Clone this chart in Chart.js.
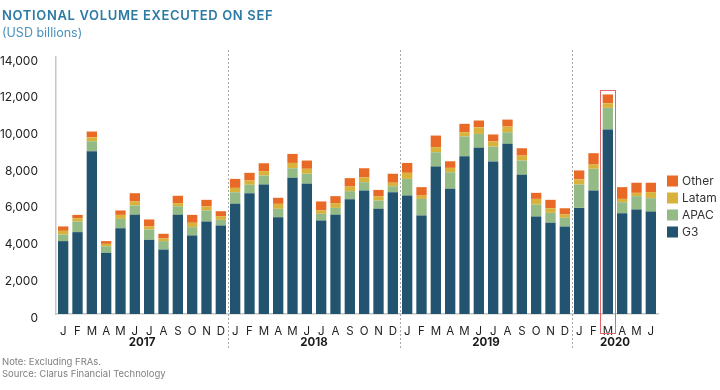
<!DOCTYPE html>
<html>
<head>
<meta charset="utf-8">
<script src="https://cdn.jsdelivr.net/npm/chart.js@4.4.0/dist/chart.umd.min.js"></script>
<style>
  body { margin: 0; background: #fff; font-family: Inter, sans-serif; }
  #wrap { position: relative; width: 720px; height: 390px; }
  #c { position: absolute; left: 0; top: 0; }
  .t { position: absolute; left: 2px; white-space: nowrap; }
</style>
</head>
<body>
<div id="wrap">
  <canvas id="c" width="720" height="390"></canvas>
  <div class="t" style="top:7px;font-size:13px;font-weight:600;color:#2d7aa5;letter-spacing:0.65px">NOTIONAL VOLUME EXECUTED ON SEF</div>
  <div class="t" style="top:25px;font-size:12.5px;color:#4a91bd">(USD billions)</div>
  <div class="t" style="top:356px;font-size:9.5px;color:#808080">Note: Excluding FRAs.</div>
  <div class="t" style="top:368px;font-size:9.5px;color:#808080">Source: Clarus Financial Technology</div>
</div>
<script>
// Monthly SEF notional, Jan 2017 - Jun 2020 (USD billions)
const months = [
  'J','F','M','A','M','J','J','A','S','O','N','D',
  'J','F','M','A','M','J','J','A','S','O','N','D',
  'J','F','M','A','M','J','J','A','S','O','N','D',
  'J','F','M','A','M','J'
];
const years = ['2017', '2018', '2019', '2020'];

const g3 = [
  3970, 4460, 8870, 3330, 4670, 5400, 4040, 3510, 5400, 4280, 5040, 4820,
  6000, 6580, 7050, 5270, 7420, 7090, 5090, 5400, 6250, 6730, 5730, 6630,
  6450, 5360, 8030, 6820, 8600, 9050, 8310, 9270, 7580, 5310, 4970, 4770,
  5780, 6730, 10050, 5490, 5690, 5580
];
const apac = [
  360, 580, 540, 360, 510, 510, 560, 460, 470, 450, 600, 310,
  630, 460, 490, 460, 520, 550, 370, 380, 440, 450, 450, 330,
  910, 910, 780, 900, 1070, 760, 810, 630, 780, 650, 540, 470,
  1270, 1180, 1180, 600, 730, 730
];
const latam = [
  200, 180, 220, 130, 220, 220, 170, 140, 170, 240, 220, 200,
  240, 230, 240, 270, 290, 270, 180, 260, 250, 270, 240, 190,
  330, 180, 280, 240, 230, 360, 280, 310, 270, 310, 250, 180,
  280, 230, 250, 180, 180, 330
];
const other = [
  240, 180, 310, 150, 240, 450, 380, 260, 400, 430, 360, 270,
  490, 420, 430, 330, 490, 450, 490, 380, 460, 490, 340, 490,
  540, 460, 630, 360, 460, 370, 380, 380, 400, 330, 460, 340,
  490, 620, 480, 640, 550, 510
];

const highlightIndex = 38; // March 2020

const extras = {
  id: 'extras',
  afterDatasetsDraw(chart) {
    const { ctx, scales: { x, y } } = chart;
    ctx.save();

    // dotted year separators
    ctx.strokeStyle = '#a9a9a9';
    ctx.lineWidth = 1;
    ctx.setLineDash([2, 2]);
    for (let i = 12; i < months.length; i += 12) {
      const px = Math.round((x.getPixelForValue(i - 1) + x.getPixelForValue(i)) / 2) + 0.5;
      ctx.beginPath();
      ctx.moveTo(px, 50);
      ctx.lineTo(px, 350);
      ctx.stroke();
    }
    ctx.setLineDash([]);

    // year labels centred under each group of months
    ctx.fillStyle = '#1a1a1a';
    ctx.font = 'bold 11.5px Inter';
    ctx.textAlign = 'center';
    ctx.textBaseline = 'middle';
    years.forEach((yr, k) => {
      const first = k * 12;
      const last = Math.min(first + 11, months.length - 1);
      const cx = (x.getPixelForValue(first) + x.getPixelForValue(last)) / 2;
      ctx.fillText(yr, cx, 343);
    });

    // red box round March 2020
    const total = g3[highlightIndex] + apac[highlightIndex] + latam[highlightIndex] + other[highlightIndex];
    const bx = x.getPixelForValue(highlightIndex);
    const top = Math.round(y.getPixelForValue(total)) - 4;
    ctx.strokeStyle = '#e2676a';
    ctx.lineWidth = 1;
    ctx.strokeRect(Math.round(bx - 7.5) + 0.5, top + 0.5, 15, 333 - top);

    // legend on the right, top item = last dataset
    const ds = chart.data.datasets.slice().reverse();
    ctx.font = '12px Inter';
    ctx.textAlign = 'left';
    ds.forEach((d, i) => {
      const cy = 181 + i * 17;
      ctx.fillStyle = d.backgroundColor;
      ctx.fillRect(667, cy - 5.5, 11, 11);
      ctx.fillStyle = '#333';
      ctx.fillText(d.label, 682, cy + 0.5);
    });

    ctx.restore();
  }
};

new Chart(document.getElementById('c'), {
  type: 'bar',
  data: {
    labels: months,
    datasets: [
      { label: 'G3', data: g3, backgroundColor: '#23546f' },
      { label: 'APAC', data: apac, backgroundColor: '#94ba86' },
      { label: 'Latam', data: latam, backgroundColor: '#d9b23c' },
      { label: 'Other', data: other, backgroundColor: '#e96a26' }
    ]
  },
  options: {
    responsive: false,
    animation: false,
    devicePixelRatio: 1,
    locale: 'en-US',
    layout: { padding: { top: 57, right: 62, bottom: 0, left: 0 } },
    datasets: { bar: { categoryPercentage: 1, barPercentage: 0.72 } },
    plugins: {
      legend: { display: false },
      tooltip: { enabled: false }
    },
    scales: {
      x: {
        stacked: true,
        grid: { display: false },
        border: { display: true, color: '#c6c6c6', width: 1.5 },
        ticks: { color: '#222', font: { family: 'Inter', size: 11.5 }, padding: 3, maxRotation: 0, autoSkip: false },
        afterFit: (s) => { s.height = 76; }
      },
      y: {
        stacked: true,
        min: 0,
        max: 14000,
        grid: { display: false },
        border: { display: true, color: '#c6c6c6', width: 1.5 },
        ticks: { stepSize: 2000, color: '#222', font: { family: 'Inter', size: 12 }, padding: 10, labelOffset: 4 },
        afterFit: (s) => { s.width = 56; }
      }
    }
  },
  plugins: [extras]
});
</script>
</body>
</html>
